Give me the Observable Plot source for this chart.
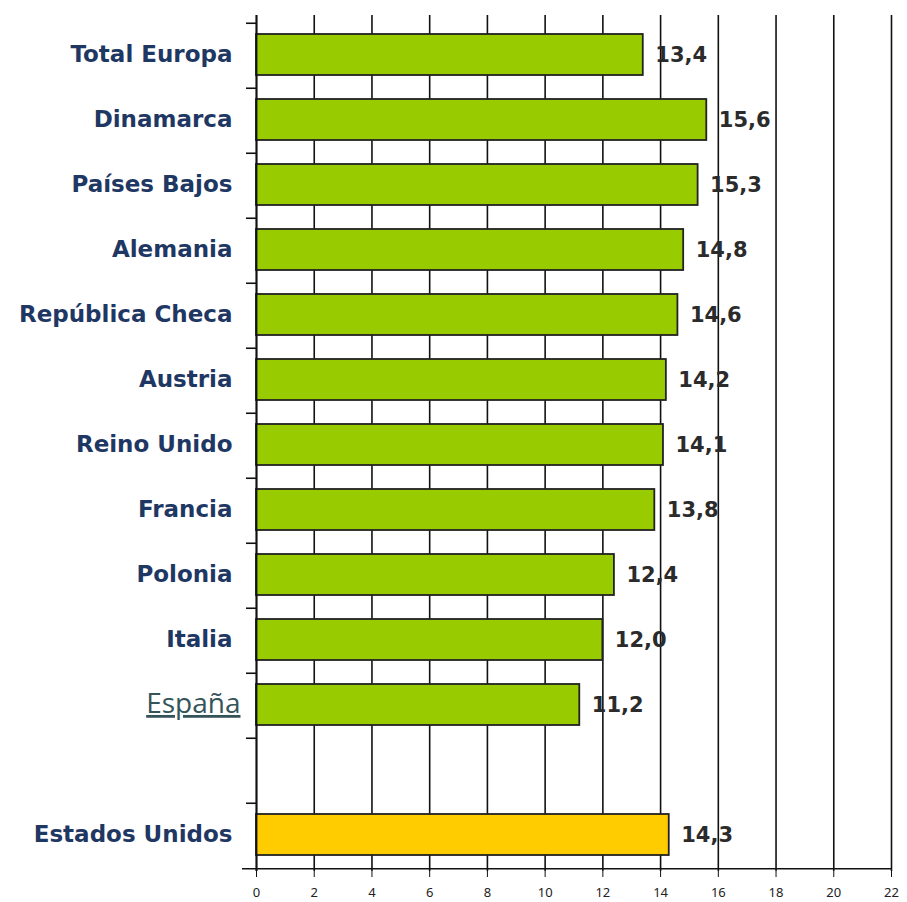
<!DOCTYPE html>
<html><head><meta charset="utf-8">
<script src="https://cdn.jsdelivr.net/npm/d3@7"></script>
<script src="https://cdn.jsdelivr.net/npm/@observablehq/plot@0.6"></script>
<style>body{margin:0;background:#fff}</style>
</head><body><div id="chart"></div>
<script>
const categories = ["Total Europa","Dinamarca","Países Bajos","Alemania","República Checa","Austria","Reino Unido","Francia","Polonia","Italia","España"," ","Estados Unidos"];
const values = [13.4,15.6,15.3,14.8,14.6,14.2,14.1,13.8,12.4,12.0,11.2,null,14.3];
const xTicks = [0,2,4,6,8,10,12,14,16,18,20,22];
const highlight = "Estados Unidos";
const underlined = "España";

const data = categories.map((c,i)=>({cat:c, v:values[i]}));
const bars = data.filter(d=>d.v!=null);
const fmt = v => v.toFixed(1).replace(".", ",");

const chart = Plot.plot({
  width: 907, height: 902,
  marginLeft: 256, marginRight: 16, marginTop: 19, marginBottom: 31,
  x: {domain:[0,22], ticks: xTicks, label: null},
  y: {domain: categories, padding: 0, label: null},
  style: {background:"#fff"},
  marks: [
    Plot.ruleX(xTicks, {stroke:"#111", strokeWidth:1.6, insetTop:-4}),
    Plot.barX(bars, {y:"cat", x:"v", fill:d=>d.cat===highlight?"#ffcc00":"#99cc00", stroke:"#222", strokeWidth:1.8, insetTop:11, insetBottom:13}),
    Plot.ruleY(categories, {y:d=>d, x1:0, x2:0, insetLeft:-10, dy:-32.75, stroke:"#111", strokeWidth:1.6}),
    Plot.ruleY([categories[categories.length-1]], {y:d=>d, x1:0, x2:22, dy:32.75, insetLeft:-14, stroke:"#111", strokeWidth:1.6}),
    Plot.ruleX([0], {stroke:"#111", strokeWidth:1.8, insetTop:-4}),
    Plot.text(bars, {y:"cat", x:"v", text:d=>fmt(d.v), dx:12, dy:-1, textAnchor:"start", fontSize:21, fontWeight:"bold", fill:"#2b2b2b", fontFamily:"DejaVu Sans"}),
    Plot.text(data.filter(d=>d.cat!==underlined && d.cat.trim()!==""), {y:"cat", x:0, text:"cat", dx:-24, dy:-1, textAnchor:"end", fontSize:23, fontWeight:"bold", fill:"#1f3763", fontFamily:"DejaVu Sans"}),
    Plot.text(data.filter(d=>d.cat===underlined), {y:"cat", x:0, text:"cat", dx:-16, dy:-2, textAnchor:"end", fontSize:28, fill:"#34545a", fontFamily:"Open Sans"}),
    Plot.axisX({ticks:xTicks, tickSize:6, tickPadding:10, fontSize:13, fill:"#222", stroke:"#111", tickFormat:d=>String(d), label:null}),
    Plot.axisY({ticks:[], label:null})
  ]
});
d3.select(chart).selectAll("text").filter(function(){ return this.textContent === underlined; })
  .style("text-decoration", "underline");
document.getElementById("chart").append(chart);
</script></body></html>
